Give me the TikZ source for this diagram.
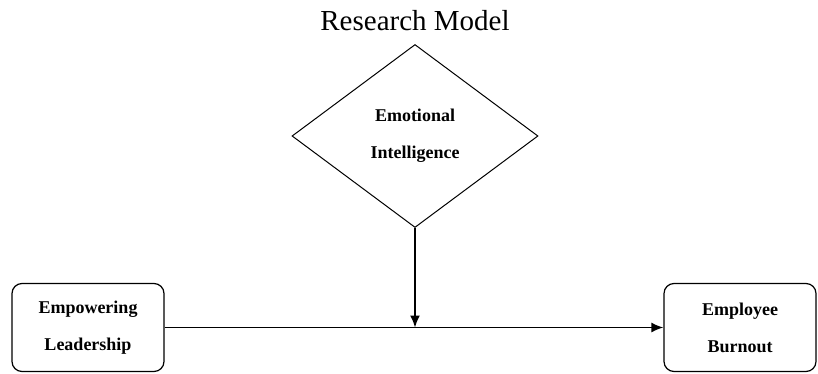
\documentclass[tikz,border=0pt]{standalone}
\usepackage{fontspec}
\setmainfont{Liberation Serif}
\usetikzlibrary{arrows.meta,shapes.geometric,positioning}

\tikzset{
  varbox/.style={draw, rounded corners=5pt, minimum width=76pt, minimum height=44pt,
    align=center, font=\fontsize{9}{18.5}\selectfont\bfseries, line width=0.6pt},
  modbox/.style={draw, diamond, minimum width=123pt, minimum height=91.5pt, inner sep=0pt,
    align=center, font=\fontsize{9}{18.5}\selectfont\bfseries, line width=0.5pt}
}

\begin{document}
\begin{tikzpicture}[x=0.5pt,y=-0.5pt,node distance=326pt,on grid,>={Latex[length=6pt,width=5pt]}]
  \useasboundingbox (0,0) rectangle (818,374);
% title and the three variables
  \node (title) at (415,21) {\fontsize{14.5}{16}\selectfont Research Model};
  \node[modbox] (ei)  at (415,136)     {Emotional\\Intelligence};
  \node[varbox] (emp) at (88,327.5)    {Empowering\\Leadership};
  \node[varbox] (bo)  [right=of emp]   {Employee\\Burnout};

% direct effect and moderation
  \coordinate (mod) at (ei.south |- emp.east);
  \draw[->, line width=0.8pt] (emp) -- (bo);
  \draw[->, line width=0.8pt] (ei) -- (mod);
\end{tikzpicture}
\end{document}
